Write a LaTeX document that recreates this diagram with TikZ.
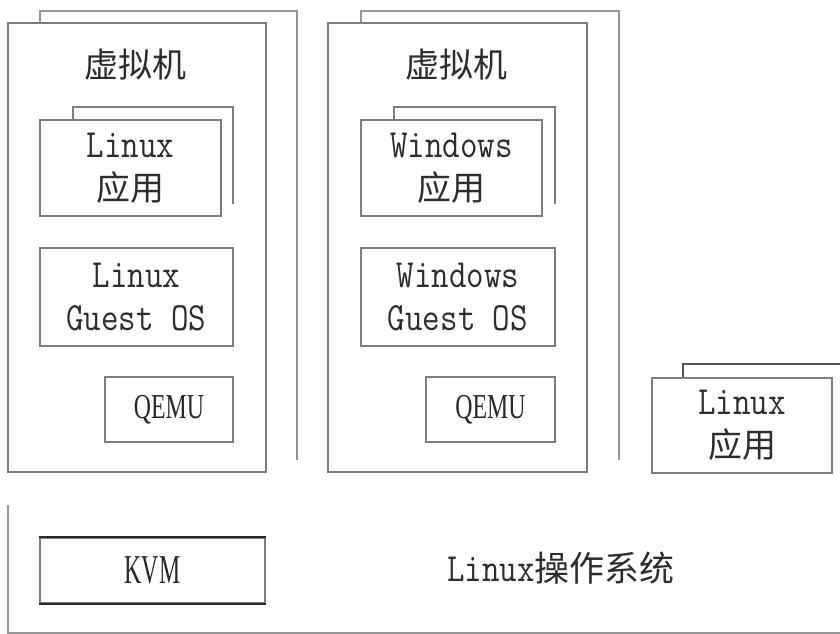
\documentclass[tikz,border=0pt]{standalone}
\usepackage{fontspec}
\newfontfamily\cjk{Noto Sans CJK SC}
\newfontfamily\lat{Latin Modern Mono}[FakeStretch=0.85]
\newfontfamily\qfont{Liberation Serif}[FakeStretch=0.68]
\newfontfamily\kfont{Liberation Serif}[FakeStretch=0.58]
\definecolor{linecol}{RGB}{125,125,125}
\definecolor{backcol}{RGB}{150,150,150}
\definecolor{txtcol}{RGB}{45,45,45}
\definecolor{kvmcol}{RGB}{40,40,40}
\tikzset{
  box/.style={draw=linecol, line width=1.5pt, fill=white, inner sep=0pt, text=txtcol, align=center,
    font=\fontsize{40}{43}\selectfont},
  backline/.style={draw=backcol, line width=1.5pt},
  lbl/.style={inner sep=0pt, text=txtcol, align=center},
}
\newcommand{\cj}[1]{{\cjk\fontsize{34}{43}\selectfont #1}}
\begin{document}
\begin{tikzpicture}[x=1pt,y=-1pt]
\useasboundingbox (0,0) rectangle (840,634);
\fill[white] (0,0) rectangle (840,634);

% VM 1
\draw[backline] (40,23) -- (40,11) -- (297,11) -- (297,460);
\node[box, minimum width=258, minimum height=449] (vm1) at (137,247.5) {};
\node[lbl, font=\fontsize{34}{43}\selectfont] (vm1t) at (135,65) {\cjk 虚拟机};
\draw[backline, draw=linecol] (73,120) -- (73,107) -- (233,107) -- (233,204);
\node[box, minimum width=181, minimum height=96] (app1) at (130.5,168) {{\lat Linux}\\\cj{应用}};
\node[box, minimum width=193, minimum height=98] (gos1) at (136.5,297) {{\lat Linux}\\{\lat Guest OS}};
\node[box, minimum width=128, minimum height=65, text=kvmcol] (qemu1) at (169,409.5) {{\qfont\fontsize{35}{43}\selectfont QEMU}};

% VM 2
\draw[backline] (361,23) -- (361,11) -- (619,11) -- (619,460);
\node[box, minimum width=259, minimum height=449] (vm2) at (457.5,247.5) {};
\node[lbl, font=\fontsize{34}{43}\selectfont] (vm2t) at (456,65) {\cjk 虚拟机};
\draw[backline, draw=linecol] (394,120) -- (394,107) -- (555,107) -- (555,204);
\node[box, minimum width=181, minimum height=96] (app2) at (451.5,168) {{\lat Windows}\\\cj{应用}};
\node[box, minimum width=194, minimum height=98] (gos2) at (458,297) {{\lat Windows}\\{\lat Guest OS}};
\node[box, minimum width=129, minimum height=65, text=kvmcol] (qemu2) at (490.5,409.5) {{\qfont\fontsize{35}{43}\selectfont QEMU}};

% host Linux app
\draw[backline, draw=kvmcol!80] (683,378) -- (683,364) -- (840,364);
\node[box, minimum width=180, minimum height=95] (app3) at (742,425.5) {{\lat Linux}\\\cj{应用}};

% host OS
\draw[backline] (8,505) -- (8,633) -- (840,633);
\node[box, minimum width=225, minimum height=65, text=kvmcol] (kvm) at (152.5,570.5) {{\kfont\fontsize{41}{43}\selectfont KVM}};
\draw[draw=kvmcol, line width=2pt] (kvm.north west) -- (kvm.north east) (kvm.south west) -- (kvm.south east);
\node[lbl, font=\fontsize{40}{43}\selectfont] (os) at (561,568) {{\lat Linux}{\cjk\fontsize{35}{43}\selectfont 操作系统}};
\end{tikzpicture}
\end{document}
